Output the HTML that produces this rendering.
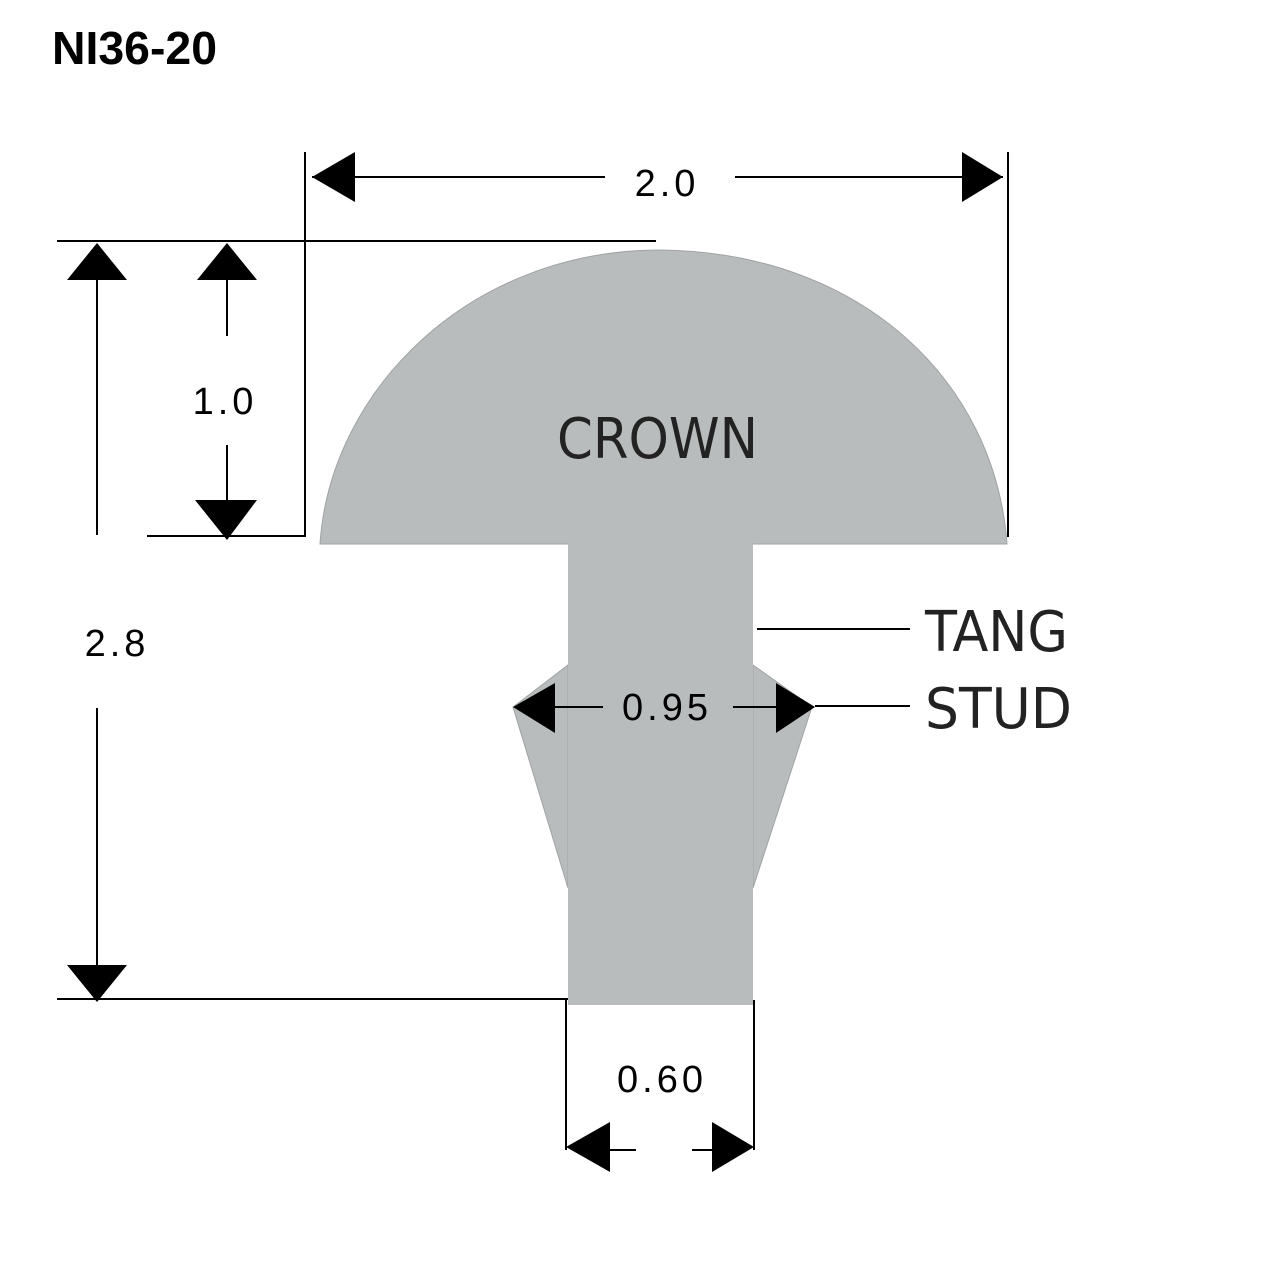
<!DOCTYPE html>
<html><head><meta charset="utf-8"><style>
html,body{margin:0;padding:0;background:#fff;}
svg{display:block}
</style></head><body>
<svg width="1280" height="1280" viewBox="0 0 1280 1280" xmlns="http://www.w3.org/2000/svg">
<rect width="1280" height="1280" fill="#fff"/>
<text x="52" y="64" font-family="Liberation Sans, sans-serif" font-weight="bold" font-size="46" textLength="165" lengthAdjust="spacingAndGlyphs">NI36-20</text>
<!-- stud -->
<path d="M568,665 L513,707 L568,888 Z M753,665 L812,707 L753,888 Z" fill="#b9bcbd" stroke="#a0a3a4" stroke-width="1"/>
<!-- crown -->
<path d="M320,544 C330,390 470,250 660,250 C860,252 995,380 1007,544 Z" fill="#b9bcbd" stroke="#a0a3a4" stroke-width="1"/>
<!-- tang -->
<rect x="568" y="543" width="185" height="462" fill="#b9bcbd"/>
<g stroke="#000" stroke-width="2" fill="none">
<line x1="305" y1="152" x2="305" y2="537"/>
<line x1="1008" y1="152" x2="1008" y2="537"/>
<line x1="312" y1="177" x2="605" y2="177"/>
<line x1="735" y1="177" x2="1003" y2="177"/>
<line x1="57" y1="241" x2="656" y2="241"/>
<line x1="147" y1="536" x2="305" y2="536"/>
<line x1="227" y1="270" x2="227" y2="336"/>
<line x1="227" y1="445" x2="227" y2="510"/>
<line x1="97" y1="270" x2="97" y2="535"/>
<line x1="97" y1="708" x2="97" y2="975"/>
<line x1="57" y1="999" x2="568" y2="999"/>
<line x1="566" y1="1000" x2="566" y2="1150"/>
<line x1="754" y1="1000" x2="754" y2="1150"/>
<line x1="600" y1="1150" x2="636" y2="1150"/>
<line x1="692" y1="1150" x2="720" y2="1150"/>
<line x1="545" y1="707" x2="603" y2="707"/>
<line x1="733" y1="707" x2="785" y2="707"/>
<line x1="815" y1="706" x2="910" y2="706"/>
<line x1="757" y1="629" x2="910" y2="629"/>
</g>
<g fill="#000">
<polygon points="312,177 355,152 355,202"/>
<polygon points="1003,177 962,152 962,202"/>
<polygon points="227,243 197,280 257,280"/>
<polygon points="227,540 195,500 257,500"/>
<polygon points="97,243 67,280 127,280"/>
<polygon points="97,1002 67,965 127,965"/>
<polygon points="566,1147 610,1122 610,1172"/>
<polygon points="754,1147 712,1122 712,1172"/>
<polygon points="513,707 555,683 555,733"/>
<polygon points="815,707 776,683 776,733"/>
</g>
<g font-family="Liberation Sans, sans-serif" font-size="38" fill="#000" text-anchor="middle" letter-spacing="4">
<text x="667" y="196">2.0</text>
<text x="225" y="414">1.0</text>
<text x="117" y="656">2.8</text>
<text x="667" y="720">0.95</text>
<text x="662" y="1092">0.60</text>
</g>
<g font-family="DejaVu Sans Condensed, Liberation Sans Narrow, Liberation Sans, sans-serif" font-size="56" fill="#222">
<text x="557" y="458" textLength="201" lengthAdjust="spacingAndGlyphs">CROWN</text>
<text x="925" y="651" textLength="143" lengthAdjust="spacingAndGlyphs">TANG</text>
<text x="925" y="728" textLength="147" lengthAdjust="spacingAndGlyphs">STUD</text>
</g>
</svg>
</body></html>
